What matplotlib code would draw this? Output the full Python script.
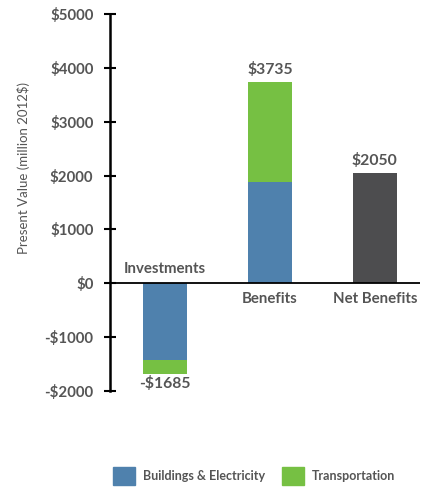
import matplotlib
matplotlib.use("Agg")
import matplotlib.pyplot as plt
from matplotlib.patches import Patch
import matplotlib.transforms as mtransforms

categories = ["Investments", "Benefits", "Net Benefits"]
buildings = [-1420, 1880, 0]
transportation = [-265, 1855, 0]
net = [0, 0, 2050]
totals = [-1685, 3735, 2050]
total_labels = ["-$1685", "$3735", "$2050"]
yticks = [-2000, -1000, 0, 1000, 2000, 3000, 4000, 5000]
ytick_labels = ["-$2000", "-$1000", "$0", "$1000", "$2000", "$3000", "$4000", "$5000"]

BLUE = "#4f81ad"
GREEN = "#76c043"
DARK = "#4d4d4f"
TEXT = "#555555"

plt.rcParams['font.family'] = ['Lato', 'DejaVu Sans']

fig = plt.figure(figsize=(4.23, 4.87), dpi=100)
ax = fig.add_axes([110/423, 96/487, 310/423, 377/487])

x = list(range(len(categories)))
w = 0.42
ax.bar(x[:2], buildings[:2], width=w, color=BLUE, zorder=2)
ax.bar(x[:2], transportation[:2], bottom=buildings[:2], width=w, color=GREEN, zorder=2)
ax.bar(x[2], net[2], width=w, color=DARK, zorder=2)

ax.set_xlim(-0.524, 2.43)
ax.set_ylim(-2000, 5000)
ax.axhline(0, color="black", lw=1.3, zorder=3)

for s in ["top", "right", "bottom"]:
    ax.spines[s].set_visible(False)
ax.spines["left"].set_linewidth(1.8)
ax.spines["left"].set_color("black")
ax.set_xticks([])
ax.set_yticks(yticks)
ax.set_yticklabels(ytick_labels, fontsize=10.8, fontweight="bold", color=TEXT)
ax.tick_params(axis="y", direction="inout", length=8, width=1.5, pad=8)

fig.text(23/423, 1 - 168/487, "Present Value (million 2012$)", rotation=90,
         ha="center", va="center", fontsize=9.5, color=TEXT)

# category labels
for i, (cat, tot) in enumerate(zip(categories, totals)):
    dy = 10 if tot < 0 else -11
    off = mtransforms.offset_copy(ax.transData, fig=fig, x=0, y=dy, units="points")
    ax.text(i, 0, cat, transform=off, ha="center", va="center", fontsize=10.8,
            fontweight="bold", color=TEXT)

# total labels
for i, (tot, lab) in enumerate(zip(totals, total_labels)):
    dy = 9 if tot > 0 else -7
    off = mtransforms.offset_copy(ax.transData, fig=fig, x=0, y=dy, units="points")
    ax.text(i, tot, lab, transform=off, ha="center", va="center", fontsize=11.3,
            fontweight="bold", color=TEXT)

handles = [Patch(color=BLUE, label="Buildings & Electricity"),
           Patch(color=GREEN, label="Transportation")]
leg = fig.legend(handles=handles, loc="center", bbox_to_anchor=(254/423, 1 - 476/487),
                 ncol=2, frameon=False, handlelength=1.76, handleheight=1.76,
                 handletextpad=0.64, columnspacing=1.33, labelcolor=TEXT,
                 prop={"weight": "bold", "size": 9})

fig.savefig("out.png", dpi=100)
